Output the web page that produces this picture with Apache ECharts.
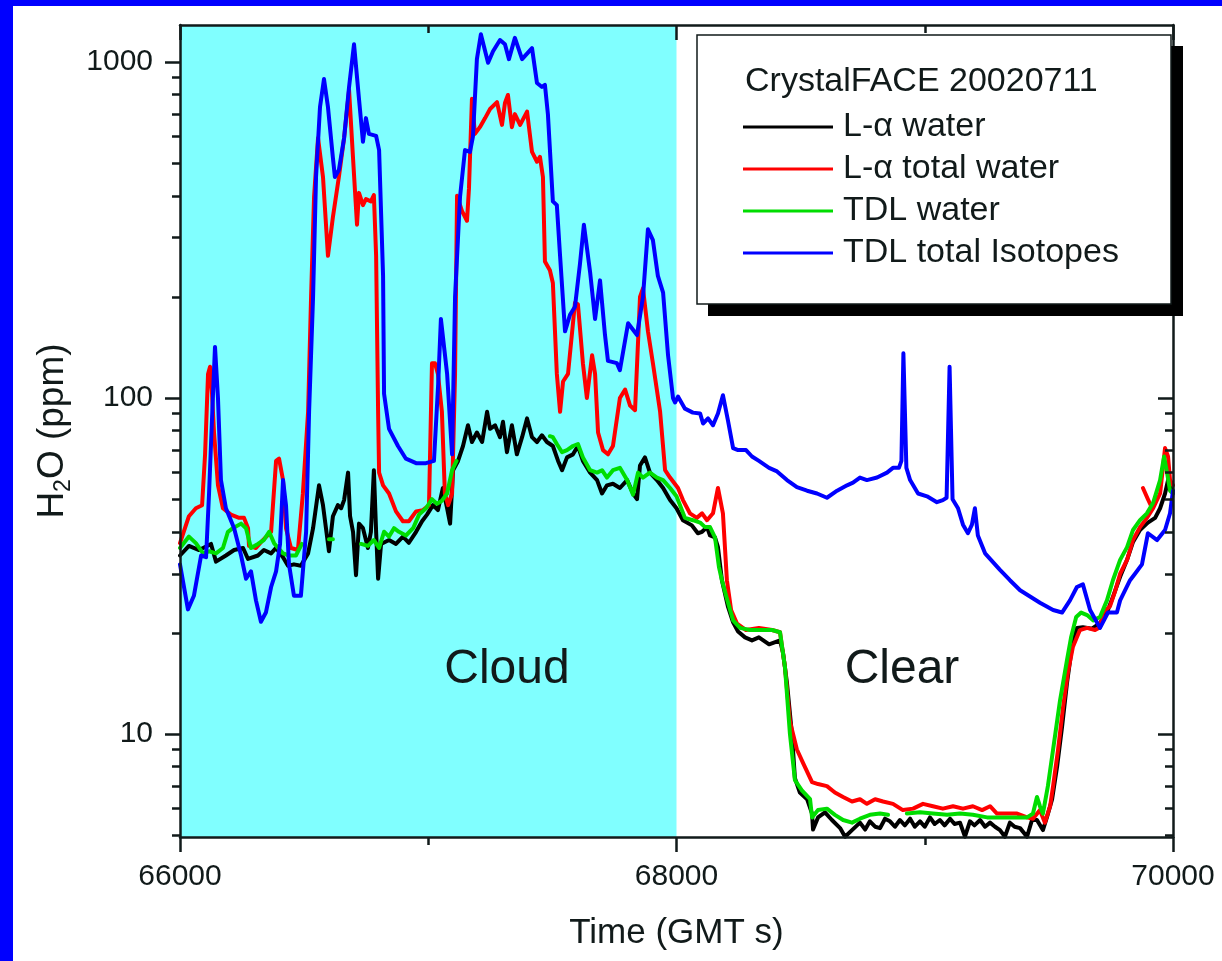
<!DOCTYPE html>
<html>
<head>
<meta charset="utf-8">
<title>CrystalFACE 20020711 water</title>
<script src="https://cdn.jsdelivr.net/npm/echarts@6/dist/echarts.min.js"></script>
<style>
  html, body { margin: 0; padding: 0; background: #ffffff; }
  #chart { width: 1222px; height: 961px; }
</style>
</head>
<body>
<div id="chart"></div>
<script>
// ---- Axis ranges and tick values ----
const X_MIN = 66000, X_MAX = 70000, X_STEP = 2000;
const Y_MIN = 4.94, Y_MAX = 1289;
const yMajorTicks = [10, 100, 1000];
const yMinorTicks = [5, 6, 7, 8, 9, 20, 30, 40, 50, 60, 70, 80, 90, 200, 300, 400, 500, 600, 700, 800, 900];

// ---- Shaded interval (in-cloud segment) ----
const cloudSpan = [66000, 68000];

// ---- Series names ----
const seriesNames = ['L-\u03b1 water', 'L-\u03b1 total water', 'TDL water', 'TDL total Isotopes'];

// ---- L-alpha water, [time s, ppm] ----
const lyaWater = [
  [66000,34],[66036,36.3],[66077,35.3],[66125,36.8],[66145,32.6],[66185,34],[66218,35.3],[66254,35.8],
  [66274,33.2],[66314,34],[66338,35.3],[66367,34.5],[66387,35.8],[66415,33.6],[66435,31.7],[66459,32],
  [66487,31.7],[66516,34.5],[66536,41],[66560,55],[66576,48],[66588,41],[66600,35],[66616,44.5],
  [66636,48],[66649,47],[66661,49.7],[66677,60],[66685,44.5],[66697,40],[66709,29.7],[66721,42.3],
  [66737,41],[66757,35.8],[66769,40],[66781,61],[66790,40],[66798,29],[66810,36.8],[66842,37.8],
  [66870,36.8],[66898,38.7],[66922,37.1],[66951,40],[66975,43],[66995,45],[67019,48],[67039,46.4],
  [67059,54],[67076,47],[67088,42.3],[67100,61],[67120,65],[67140,72],[67160,83],[67176,74],
  [67196,79],[67217,74],[67237,91],[67249,81],[67269,83],[67289,76.5],[67301,85],[67317,69],
  [67337,83],[67357,68],[67378,76.5],[67398,87],[67418,76.5],[67438,74],[67458,77.5],[67478,74],
  [67502,72],[67523,65],[67539,61],[67559,66.6],[67583,68],[67603,72],[67623,65],[67652,60],
  [67680,57],[67700,52],[67720,55],[67744,55.6],[67772,54],[67801,57],[67825,52],[67841,50],
  [67853,63],[67873,66.6],[67893,60],[67921,57],[67946,54],[67974,49.7],[68000,47],[68026,43.3],
  [68062,41.8],[68086,39.6],[68103,40],[68123,41.3],[68135,39],[68155,38.5],[68167,36],[68183,28.7],
  [68207,24],[68228,21.5],[68248,20.2],[68276,19.4],[68304,19],[68332,19.4],[68373,18.5],[68417,19],
  [68429,17.5],[68445,14.2],[68465,10],[68477,7.4],[68497,6.7],[68526,6.4],[68546,5.8],[68550,5.2],
  [68570,5.65],[68598,5.85],[68626,5.55],[68659,5.25],[68679,4.95],[68707,5.18],[68739,5.45],[68760,5.2],
  [68779,5.5],[68800,5.3],[68820,5.25],[68840,5.6],[68860,5.5],[68880,5.3],[68900,5.55],[68920,5.35],
  [68941,5.6],[68960,5.3],[68981,5.5],[69000,5.3],[69021,5.65],[69040,5.4],[69061,5.55],[69080,5.35],
  [69102,5.6],[69120,5.4],[69142,5.45],[69162,4.95],[69182,5.5],[69200,5.35],[69223,5.55],[69243,5.3],
  [69263,5.45],[69283,5.3],[69303,5.18],[69323,4.95],[69343,5.45],[69362,5.3],[69384,5.25],[69412,4.95],
  [69432,5.55],[69452,5.55],[69476,5.18],[69492,5.65],[69513,6.4],[69533,8.0],[69553,10.5],[69573,14.2],
  [69593,18.2],[69613,20.7],[69637,20.8],[69674,20.6],[69706,21.4],[69734,23],[69758,25.6],[69787,29.4],
  [69815,33],[69839,37.3],[69867,40.5],[69899,42.6],[69928,44],[69948,47],[69968,52],[69980,57],[69996,53]
];

// ---- L-alpha total water, [time s, ppm]; null marks a gap ----
const lyaTotal = [
  [66000,37],[66036,44.5],[66064,47],[66089,48],[66101,68],[66113,118],[66121,124],[66129,103],
  [66137,79],[66153,55],[66173,47],[66205,45],[66238,44],[66258,44],[66274,41],[66278,36.3],
  [66306,35.8],[66334,37.8],[66367,40],[66387,65],[66399,66],[66415,57],[66427,41],[66447,35.8],
  [66475,35.3],[66495,52],[66516,91],[66528,200],[66540,397],[66556,594],[66576,455],[66596,265],
  [66616,346],[66640,455],[66661,594],[66681,825],[66697,518],[66713,328],[66721,408],[66737,375],
  [66749,391],[66769,385],[66781,402],[66790,265],[66798,91],[66802,60],[66818,55],[66842,52],
  [66870,46],[66898,43],[66922,43],[66951,46],[66979,46.4],[67003,48],[67015,127],[67027,127],
  [67039,118],[67055,91],[67067,52],[67080,48],[67096,52],[67108,118],[67116,400],[67136,360],
  [67156,337],[67164,420],[67176,777],[67188,611],[67208,640],[67229,681],[67249,725],[67277,760],
  [67297,650],[67309,755],[67321,798],[67337,640],[67349,700],[67370,650],[67398,712],[67418,540],
  [67438,505],[67450,522],[67462,455],[67470,255],[67490,240],[67502,220],[67518,118],[67531,91],
  [67543,112],[67563,118],[67591,192],[67603,190],[67623,127],[67639,100],[67660,134],[67672,118],
  [67684,79],[67704,70],[67724,68],[67744,72],[67772,100],[67793,106],[67813,95],[67833,92],
  [67853,200],[67865,212],[67885,158],[67905,127],[67934,91],[67954,61],[67974,58],[68006,54],
  [68026,49.7],[68054,45.4],[68082,44],[68103,45.4],[68123,43.3],[68147,45.4],[68167,54],[68187,45.4],
  [68203,28.7],[68220,23.4],[68244,21.3],[68280,20.4],[68332,20.7],[68385,20.4],[68417,20.1],[68437,15.8],
  [68457,10.9],[68485,9.0],[68510,8.2],[68546,7.2],[68570,7.1],[68606,7.0],[68638,6.7],[68671,6.5],
  [68707,6.3],[68739,6.4],[68767,6.2],[68800,6.4],[68832,6.3],[68872,6.2],[68912,5.94],[68953,6.0],
  [68993,6.2],[69033,6.1],[69073,6.0],[69114,6.1],[69154,6.0],[69194,6.1],[69231,5.94],[69263,6.1],
  [69291,5.8],[69331,5.8],[69372,5.8],[69412,5.65],[69436,5.6],[69464,5.94],[69484,5.45],[69505,6.1],
  [69517,7.0],[69537,9.0],[69557,12.0],[69577,15.3],[69597,18.2],[69625,20.4],[69654,20.7],[69686,20.4],
  [69706,20.8],[69718,23],[69746,24],[69766,26.5],[69787,30],[69815,33],[69839,37.8],[69867,41.3],
  [69895,44],[69920,47],[69948,52],[69968,71],[69980,67],[69988,57],[70000,55],
  [69879,null],[69879,54],[69899,50],[69916,47]
];

// ---- TDL water, [time s, ppm]; null marks a gap ----
const tdlWater = [
  [66000,35.8],[66036,38.7],[66064,37],[66093,34.5],[66117,35],[66145,34.5],[66173,35.8],[66193,40],
  [66213,41],[66246,42.3],[66266,41],[66286,35.8],[66314,36.8],[66338,37.8],[66359,40],[66379,37],
  [66395,35.8],[66415,34.5],[66439,34],[66467,34],[66491,36.8],[66500,null],[66600,38],[66616,38],
  [66620,null],[66729,36.8],[66757,36.3],[66781,37.8],[66802,35.8],[66822,40],[66842,38.7],[66862,41],
  [66882,40],[66910,39],[66939,41],[66963,45],[66991,47],[67015,50],[67035,48.5],[67055,49.5],
  [67076,52],[67096,61],[67114,65],[67120,null],[67490,77],[67502,76.5],[67518,73],[67539,69],
  [67559,70],[67583,72],[67603,73],[67623,66.6],[67652,61],[67680,60],[67700,61],[67720,58],
  [67744,61],[67772,62],[67801,57],[67825,51.6],[67845,60],[67865,58],[67893,60],[67921,58],
  [67946,57],[67974,54],[68000,51],[68034,44],[68066,43.3],[68095,42.6],[68115,41.3],[68135,41.3],
  [68155,38.5],[68171,31.4],[68183,28.7],[68203,25.3],[68228,21.8],[68256,20.7],[68296,20.4],[68332,20.4],
  [68385,20.4],[68417,20.1],[68437,15.8],[68457,10],[68477,7.3],[68505,6.8],[68538,6.4],[68546,5.65],
  [68570,5.94],[68606,6.0],[68638,5.75],[68671,5.55],[68707,5.45],[68739,5.6],[68779,5.75],[68820,5.8],
  [68852,5.75],[68860,null],[68928,5.8],[68981,5.85],[69033,5.8],[69090,5.75],[69142,5.8],[69194,5.75],
  [69251,5.65],[69303,5.65],[69355,5.65],[69412,5.65],[69436,5.8],[69452,6.5],[69464,6.1],[69476,5.8],
  [69496,7.0],[69517,9.0],[69545,12.6],[69573,16.6],[69590,19.5],[69610,22.3],[69630,23],[69654,22.6],
  [69678,21.8],[69706,22.3],[69734,25],[69758,28.7],[69787,33],[69815,36],[69839,40.5],[69867,43.3],
  [69895,45.4],[69920,48.8],[69948,57],[69964,67],[69976,60],[69988,53],[70000,52]
];

// ---- TDL total isotopes, [time s, ppm] ----
const tdlTotal = [
  [66000,32],[66032,23.5],[66056,25.8],[66085,34],[66105,33.6],[66117,52],[66133,103],[66141,142],
  [66153,100],[66165,57],[66185,47],[66218,41],[66246,34],[66266,29],[66286,30.5],[66306,25],
  [66326,21.6],[66346,23],[66367,27.4],[66387,30.5],[66403,36.8],[66415,57],[66427,48],[66439,32],
  [66459,25.8],[66487,25.8],[66508,40],[66520,91],[66536,200],[66548,455],[66564,735],[66580,890],
  [66596,735],[66616,518],[66624,455],[66640,477],[66661,594],[66681,843],[66701,1130],[66721,777],
  [66737,579],[66749,681],[66761,611],[66790,603],[66802,547],[66818,231],[66822,103],[66842,81],
  [66878,72],[66910,66],[66951,64],[66991,64],[67023,65],[67040,110],[67051,172],[67076,118],
  [67096,68],[67108,200],[67128,397],[67148,547],[67168,540],[67180,600],[67196,1020],[67212,1210],
  [67241,995],[67261,1077],[67289,1163],[67309,1130],[67325,1020],[67349,1180],[67378,1020],[67418,1100],
  [67438,866],[67458,843],[67470,855],[67482,700],[67502,385],[67518,375],[67531,265],[67551,158],
  [67571,177],[67591,187],[67611,250],[67627,328],[67652,237],[67672,172],[67692,224],[67712,154],
  [67724,129],[67760,127],[67772,121],[67805,167],[67841,154],[67865,200],[67885,318],[67905,295],
  [67925,231],[67946,206],[67966,134],[67986,100],[67994,97],[68006,101],[68034,93],[68066,90.5],
  [68095,90],[68107,84],[68127,87],[68147,83],[68167,90],[68187,102],[68207,86],[68228,71],
  [68248,70],[68280,70],[68304,67],[68332,65],[68373,62],[68405,60.5],[68445,57],[68485,54.3],
  [68526,53],[68566,52],[68606,50.5],[68647,53],[68687,55],[68711,56],[68739,58],[68767,57],
  [68808,58],[68848,60],[68872,62],[68896,62],[68906,65],[68914,136],[68926,62],[68941,57],
  [68973,52],[69009,51],[69049,49],[69073,49.7],[69088,50.5],[69100,124],[69112,50],[69134,47],
  [69154,42],[69174,39.6],[69190,42],[69202,47],[69214,39],[69243,34.5],[69303,30.8],[69343,28.7],
  [69384,26.8],[69464,24.6],[69517,23.4],[69553,23],[69585,25],[69613,27.4],[69637,27.9],[69666,23.4],
  [69706,20.7],[69738,23],[69774,23],[69787,25],[69827,28.7],[69847,30],[69875,32],[69899,39.6],
  [69936,37.8],[69968,40.5],[69988,45.4],[70000,53]
];

// ---- Styling ----
const FONT = 'Liberation Sans, Arial, Helvetica, sans-serif';
const INK = '#111a1a';
const AXIS_W = 2.5;
const colors = ['#000000', '#ff0000', '#00dd00', '#0000ff'];
const CLOUD_FILL = '#80ffff';

const lgMin = Math.log10(Y_MIN), lgMax = Math.log10(Y_MAX);
const toLog = arr => arr.map(v => Math.log10(v));

const axisLine = { show: true, onZero: false, lineStyle: { color: INK, width: AXIS_W } };
const tickLine = { color: INK, width: AXIS_W };

// helper axes carrying the log-spaced ticks on the left and right frame edges
function tickAxis(position, values, length, inside, showLine) {
  return {
    type: 'value', position: position, min: lgMin, max: lgMax, z: 6,
    axisLine: showLine ? axisLine : { show: false },
    axisTick: { show: true, inside: inside, length: length, customValues: toLog(values), lineStyle: tickLine },
    axisLabel: { show: false },
    splitLine: { show: false }
  };
}

const chart = echarts.init(document.getElementById('chart'), null, { renderer: 'canvas' });

function line(name, data, color, extra) {
  return Object.assign({
    name: name, type: 'line', data: data, xAxisIndex: 0, yAxisIndex: 0,
    symbol: 'none', showSymbol: false, connectNulls: false, clip: true,
    lineStyle: { color: color, width: 4, join: 'round', cap: 'round' }, itemStyle: { color: color },
    emphasis: { disabled: true }, z: 3
  }, extra || {});
}

const option = {
  animation: false,
  backgroundColor: '#ffffff',
  textStyle: { fontFamily: FONT },
  grid: { left: 180, top: 25, right: 49, bottom: 124, containLabel: false, outerBoundsMode: 'none' },
  xAxis: [
    {
      type: 'value', position: 'bottom', min: X_MIN, max: X_MAX, interval: X_STEP, z: 6,
      axisLine: axisLine,
      axisTick: { show: true, length: 15, lineStyle: tickLine },
      minorTick: { show: true, splitNumber: 2, length: 8, lineStyle: tickLine },
      axisLabel: { fontSize: 30, color: INK, fontFamily: FONT, margin: 25, formatter: v => String(v) },
      splitLine: { show: false },
      name: 'Time (GMT s)', nameLocation: 'middle', nameGap: 79,
      nameTextStyle: { fontSize: 35, color: INK, fontFamily: FONT }
    },
    {
      type: 'value', position: 'top', min: X_MIN, max: X_MAX, interval: X_STEP, z: 6,
      axisLine: axisLine,
      axisTick: { show: true, inside: true, length: 15, lineStyle: tickLine },
      minorTick: { show: true, splitNumber: 2, length: 8, lineStyle: tickLine },
      axisLabel: { show: false },
      splitLine: { show: false }
    }
  ],
  yAxis: [
    {
      type: 'log', logBase: 10, position: 'left', min: Y_MIN, max: Y_MAX, z: 6,
      axisLine: axisLine,
      axisTick: { show: false },
      axisLabel: {
        fontSize: 30, color: INK, fontFamily: FONT, margin: 27,
        showMinLabel: false, showMaxLabel: false,
        formatter: v => String(Math.round(v))
      },
      splitLine: { show: false },
      name: '{t|H}{s|2}{t|O (ppm)}', nameLocation: 'middle', nameGap: 93,
      nameTextStyle: {
        color: INK, fontFamily: FONT,
        rich: {
          t: { fontSize: 37, lineHeight: 46, fontFamily: FONT, color: INK },
          s: { fontSize: 23, lineHeight: 16, verticalAlign: 'bottom', fontFamily: FONT, color: INK }
        }
      }
    },
    tickAxis('left', yMajorTicks, 15, false, false),
    tickAxis('left', yMinorTicks, 8, false, false),
    tickAxis('right', yMajorTicks, 15, true, true),
    tickAxis('right', yMinorTicks, 8, true, false)
  ],
  legend: {
    orient: 'vertical', left: 743, top: 110, padding: 0,
    itemWidth: 90, itemHeight: 3, itemGap: 8, icon: 'rect',
    selectedMode: false, z: 30,
    data: seriesNames,
    textStyle: { fontSize: 34, lineHeight: 34, color: INK, fontFamily: FONT, padding: [0, 0, 0, 5] }
  },
  graphic: [
    // frame strips
    { type: 'rect', z: 40, shape: { x: 0, y: 0, width: 1222, height: 6 }, style: { fill: '#0000ff' } },
    { type: 'rect', z: 40, shape: { x: 0, y: 0, width: 13, height: 961 }, style: { fill: '#0000ff' } },
    // legend panel with a hard drop shadow
    { type: 'rect', z: 20, shape: { x: 708, y: 46, width: 475, height: 270 }, style: { fill: '#000000' } },
    { type: 'rect', z: 21, shape: { x: 697, y: 35, width: 474, height: 269 },
      style: { fill: '#ffffff', stroke: INK, lineWidth: 1.5 } },
    { type: 'text', z: 22, x: 745, y: 82,
      style: { text: 'CrystalFACE 20020711', fontSize: 34, fontFamily: FONT, fill: INK, verticalAlign: 'middle' } },
    // region captions
    { type: 'text', z: 22, x: 507, y: 670,
      style: { text: 'Cloud', fontSize: 48, fontFamily: FONT, fill: INK, align: 'center', verticalAlign: 'middle' } },
    { type: 'text', z: 22, x: 902, y: 670,
      style: { text: 'Clear', fontSize: 48, fontFamily: FONT, fill: INK, align: 'center', verticalAlign: 'middle' } }
  ],
  series: [
    line(seriesNames[0], lyaWater, colors[0], {
      markArea: {
        silent: true, z: 1,
        itemStyle: { color: CLOUD_FILL, opacity: 1, borderWidth: 0 },
        data: [[{ xAxis: cloudSpan[0] }, { xAxis: cloudSpan[1] }]]
      }
    }),
    line(seriesNames[1], lyaTotal, colors[1]),
    line(seriesNames[2], tdlWater, colors[2]),
    line(seriesNames[3], tdlTotal, colors[3])
  ]
};

chart.setOption(option);
</script>
</body>
</html>
